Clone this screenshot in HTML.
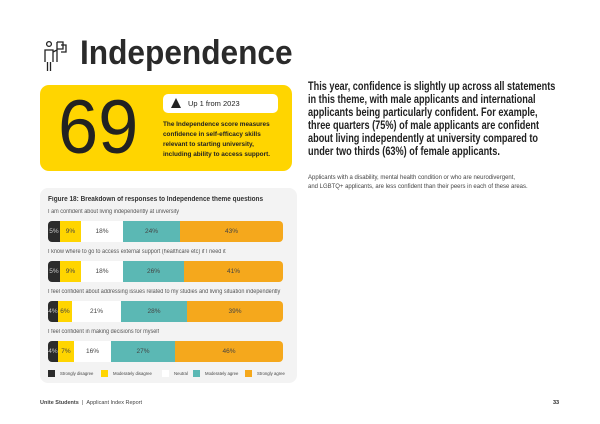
<!DOCTYPE html>
<html><head><meta charset="utf-8"><style>
*{margin:0;padding:0;box-sizing:border-box}
body{width:600px;height:424px;background:#fff;font-family:"Liberation Sans",sans-serif;color:#222;position:relative;overflow:hidden}
.a{position:absolute;white-space:nowrap}
.bar{position:absolute;left:48px;width:235px;height:21px;display:flex;border-radius:4px;overflow:hidden;font-size:6.5px;color:#444}
.bar div{display:flex;align-items:center;justify-content:center;height:100%}
.q{position:absolute;left:48px;font-size:6px;color:#555;white-space:nowrap;transform:scaleX(0.92);transform-origin:left}
.lg{position:absolute;top:370px;font-size:4.3px;color:#444;display:flex;align-items:center;white-space:nowrap}
.lg i{display:inline-block;width:7px;height:7px;margin-right:5px}
</style></head><body>
<svg class="a" style="left:43px;top:40px" width="28" height="32" viewBox="0 0 28 32"><g fill="none" stroke="#222" stroke-width="1.3"><circle cx="6" cy="4" r="2.4"/><path d="M2 22V10h8v12M4.5 22v9M7.5 22v9M10 12l4-2M14 2v20M14 2h6v7h-6M18 5h5v7h-5"/></g></svg>
<div class="a" style="left:80px;top:34px;font-size:34px;font-weight:bold;color:#2a2a2a;transform:scaleX(0.93);transform-origin:left">Independence</div>
<div class="a" style="left:40px;top:85px;width:252px;height:86px;background:#ffd500;border-radius:9px"></div>
<div class="a" style="left:58px;top:84px;font-size:76px;color:#222;transform:scaleX(0.95);transform-origin:left">69</div>
<div class="a" style="left:163px;top:94px;width:115px;height:19px;background:#fff;border-radius:5px"></div>
<div class="a" style="left:171px;top:98px;width:0;height:0;border-left:5px solid transparent;border-right:5px solid transparent;border-bottom:10px solid #222"></div>
<div class="a" style="left:188px;top:99px;font-size:7.5px">Up 1 from 2023</div>
<div class="a" style="left:163px;top:120px;font-size:6.6px;font-weight:bold;line-height:10px;transform:scaleX(0.97);transform-origin:left">The Independence score measures<br>confidence in self-efficacy skills<br>relevant to starting university,<br>including ability to access support.</div>
<div class="a" style="left:308px;top:81px;font-size:11.6px;font-weight:bold;line-height:12.9px;color:#222;transform:scaleX(0.79);transform-origin:left">This year, confidence is slightly up across all statements<br>in this theme, with male applicants and international<br>applicants being particularly confident. For example,<br>three quarters (75%) of male applicants are confident<br>about living independently at university compared to<br>under two thirds (63%) of female applicants.</div>
<div class="a" style="left:308px;top:174px;font-size:6.3px;line-height:8.5px;color:#444;transform:scaleX(0.95);transform-origin:left">Applicants with a disability, mental health condition or who are neurodivergent,<br>and LGBTQ+ applicants, are less confident than their peers in each of these areas.</div>
<div class="a" style="left:40px;top:188px;width:257px;height:195px;background:#f3f3f3;border-radius:8px"></div>
<div class="a" style="left:48px;top:196px;font-size:7px;font-weight:bold;color:#333;transform:scaleX(0.92);transform-origin:left">Figure 18: Breakdown of responses to Independence theme questions</div>
<div class="q" style="top:209px">I am confident about living independently at university</div>
<div class="bar" style="top:221px"><div style="width:12px;background:#2b2b2b;color:#ccc">5%</div><div style="width:21px;background:#ffd500">9%</div><div style="width:42px;background:#fff">18%</div><div style="width:57px;background:#5bb8b4">24%</div><div style="flex:1;background:#f5a81c">43%</div></div>
<div class="q" style="top:249px">I know where to go to access external support (healthcare etc) if I need it</div>
<div class="bar" style="top:261px"><div style="width:12px;background:#2b2b2b;color:#ccc">5%</div><div style="width:21px;background:#ffd500">9%</div><div style="width:42px;background:#fff">18%</div><div style="width:61px;background:#5bb8b4">26%</div><div style="flex:1;background:#f5a81c">41%</div></div>
<div class="q" style="top:289px">I feel confident about addressing issues related to my studies and living situation independently</div>
<div class="bar" style="top:301px"><div style="width:10px;background:#2b2b2b;color:#ccc">4%</div><div style="width:14px;background:#ffd500">6%</div><div style="width:49px;background:#fff">21%</div><div style="width:66px;background:#5bb8b4">28%</div><div style="flex:1;background:#f5a81c">39%</div></div>
<div class="q" style="top:329px">I feel confident in making decisions for myself</div>
<div class="bar" style="top:341px"><div style="width:10px;background:#2b2b2b;color:#ccc">4%</div><div style="width:16px;background:#ffd500">7%</div><div style="width:37px;background:#fff">16%</div><div style="width:64px;background:#5bb8b4">27%</div><div style="flex:1;background:#f5a81c">46%</div></div>
<div class="lg" style="left:48px"><i style="background:#2b2b2b"></i>Strongly disagree</div>
<div class="lg" style="left:101px"><i style="background:#ffd500"></i>Moderately disagree</div>
<div class="lg" style="left:162px"><i style="background:#fff"></i>Neutral</div>
<div class="lg" style="left:193px"><i style="background:#5bb8b4"></i>Moderately agree</div>
<div class="lg" style="left:245px"><i style="background:#f5a81c"></i>Strongly agree</div>
<div class="a" style="left:40px;top:400px;font-size:5.5px;color:#444"><b>Unite Students</b> &nbsp;| &nbsp;Applicant Index Report</div>
<div class="a" style="left:553px;top:400px;font-size:5.5px;font-weight:bold">33</div>
</body></html>
